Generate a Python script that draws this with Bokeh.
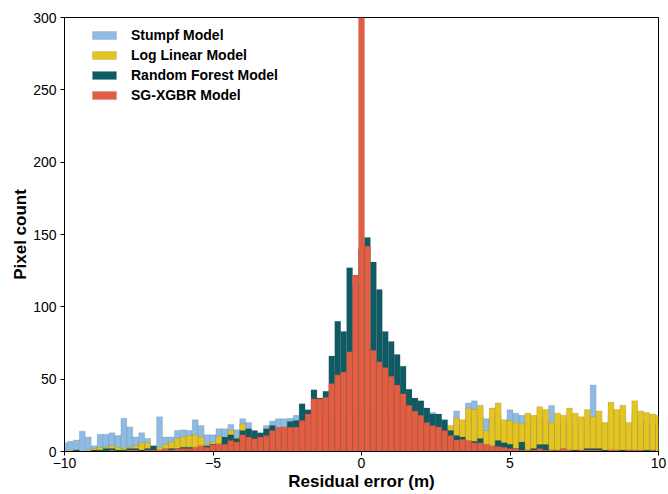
import numpy as np
from bokeh.plotting import figure
from bokeh.models import Range1d, FixedTicker
from bokeh.embed import file_html
from bokeh.resources import INLINE

# histogram bins: width 0.2, centred on -10 ... 10
bin_width = 0.2
bin_centers = np.linspace(-10, 10, 101)

stumpf = [6, 7, 8, 14, 10, 4, 12, 12, 13, 11,
          23, 17, 10, 13, 9, 3, 24, 10, 10, 14.5,
          15, 14.5, 22, 18, 11.5, 11.5, 15.7, 15.7, 18.7, 15,
          22.6, 20, 12, 12, 18, 21, 22.6, 22.6, 23, 25,
          20, 18, 22, 22, 24, 25, 26, 27, 28, 29,
          30, 30, 29, 28, 28, 27, 26, 26, 25, 25,
          26, 30, 27, 22, 14, 16, 28, 18, 33.6, 35,
          25, 22.6, 24, 26, 18, 28.8, 26.5, 25, 20, 22,
          24, 22, 31.8, 20, 18, 22, 20, 18, 22, 46,
          20, 15, 25, 22, 24, 15, 26, 21, 20, 19, 18]

log_linear = [0, 1, 1, 0, 1, 2, 3, 3, 4, 3,
              2, 3, 4, 6, 6, 2, 3, 5, 6.5, 9,
              10, 11, 11.5, 10, 5, 6.5, 10.4, 8, 14.5, 10,
              19, 12, 10, 11, 13, 16, 14, 17, 15, 16,
              15, 14, 15, 15, 16, 18, 18, 19, 19, 20,
              20, 20, 20, 19, 19, 18, 18, 17, 17, 16,
              16, 16, 15, 15, 15, 18, 23, 22, 30, 29,
              32, 14.5, 30, 33.6, 22, 21.4, 20, 19, 26.5, 25,
              31, 29, 20, 26.5, 25, 30, 26.5, 24, 29, 24,
              28, 20, 34, 29, 32, 20, 35, 28, 27, 26, 25]

random_forest = [0, 0, 1, 0, 0, 1, 1, 2, 2, 1,
                 1, 2, 2, 1, 2, 4, 1, 1, 2, 2,
                 3, 3, 2, 3, 4, 5, 4, 10, 11.5, 9,
                 14.5, 15.7, 14.5, 13, 15.7, 18, 12, 14, 20.7, 21.4,
                 33, 28.8, 42.6, 37, 41.7, 66, 90, 83, 127, 115,
                 140, 148, 131, 112, 83, 76, 67, 59, 43, 37,
                 35, 30, 26, 26, 22, 14.5, 11, 10, 4, 7,
                 9, 3, 3, 7.6, 6, 5, 2, 6.5, 1, 2,
                 4.8, 4.8, 1, 1, 1, 1, 1, 1, 2, 2,
                 2, 1, 1, 1, 1, 1, 1, 0, 1, 1, 0]

sg_xgbr = [0, 0, 0, 0, 0, 0, 0, 0, 1, 0,
           0, 1, 1, 0, 1, 1, 1, 2, 1, 2,
           2, 2, 3, 4, 3, 4.6, 5.3, 5, 7.6, 6.5,
           11.5, 10, 8.8, 10, 11, 14.5, 16.8, 16.8, 16.8, 17,
           21.4, 26, 36.4, 36.4, 37.5, 47, 53, 55, 69, 122,
           310, 142, 70, 62, 58, 52, 46, 40, 32, 28,
           25, 20, 18, 17, 14.5, 11, 8, 8.5, 7.6, 6,
           6, 5, 4, 3.5, 3, 2, 2, 1, 1, 1,
           2, 1, 1, 1, 2, 1, 0, 1, 1, 1,
           1, 0, 1, 1, 0, 1, 1, 1, 0, 1, 0]

series_names = ["Stumpf Model", "Log Linear Model", "Random Forest Model", "SG-XGBR Model"]
series_colors = ["#8ebbe4", "#e4c421", "#0e5b64", "#e35d42"]

x_ticks = [-10, -5, 0, 5, 10]
y_ticks = [0, 50, 100, 150, 200, 250, 300]

FONT = "Liberation Sans"

p = figure(width=666, height=494,
           x_range=Range1d(-10, 10), y_range=Range1d(0, 300),
           output_backend="svg", toolbar_location=None,
           min_border_left=64, min_border_right=8, min_border_top=17, min_border_bottom=43)

for vals, name, col in zip([stumpf, log_linear, random_forest, sg_xgbr], series_names, series_colors):
    p.vbar(x=bin_centers, width=bin_width, top=vals, bottom=0,
           fill_color=col, line_color="#4a4a4a", line_alpha=0.25, line_width=0.6,
           legend_label=name)

p.xgrid.visible = False
p.ygrid.visible = False
p.outline_line_color = "black"
p.outline_line_width = 1

for ax in (p.xaxis[0], p.yaxis[0]):
    ax.major_tick_in = 0
    ax.major_tick_out = 4
    ax.minor_tick_out = 0
    ax.minor_tick_in = 0
    ax.axis_line_color = "black"
    ax.major_tick_line_color = "black"
    ax.major_label_text_font = FONT
    ax.major_label_text_font_size = "14px"
    ax.major_label_text_color = "black"
    ax.axis_label_text_font = FONT
    ax.axis_label_text_font_style = "bold"
    ax.axis_label_text_font_size = "17px"
    ax.axis_label_text_color = "black"

p.xaxis.ticker = FixedTicker(ticks=x_ticks)
p.yaxis.ticker = FixedTicker(ticks=y_ticks)
p.xaxis.axis_label = "Residual error (m)"
p.yaxis.axis_label = "Pixel count"
p.xaxis.major_label_standoff = 2
p.xaxis.axis_label_standoff = 1
p.yaxis.major_label_standoff = 4
p.yaxis.axis_label_standoff = 0

lg = p.legend[0]
lg.location = (25, 347)
lg.margin = 0
lg.padding = 0
lg.border_line_color = None
lg.background_fill_alpha = 0
lg.label_text_font = FONT
lg.label_text_font_style = "bold"
lg.label_text_font_size = "14px"
lg.label_text_color = "black"
lg.glyph_width = 30
lg.glyph_height = 10
lg.label_height = 18
lg.spacing = 2
lg.label_standoff = 12

open("out.html", "w").write(file_html(p, INLINE))
